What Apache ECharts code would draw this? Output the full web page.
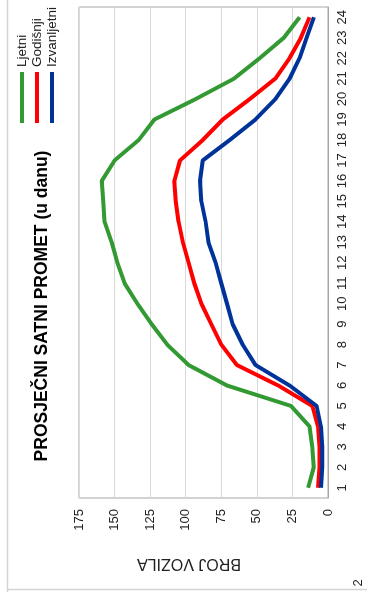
<!DOCTYPE html>
<html>
<head>
<meta charset="utf-8">
<script src="https://cdn.jsdelivr.net/npm/echarts@6/dist/echarts.min.js"></script>
<style>
html,body{margin:0;padding:0;background:#fff;overflow:hidden;}
#wrap{position:absolute;left:0;top:0;width:367px;height:592px;overflow:hidden;}
#main{position:absolute;left:0;top:0;width:592px;height:367px;transform-origin:0 0;transform:translateY(592px) rotate(-90deg);}
</style>
</head>
<body>
<div id="wrap"><div id="main"></div></div>
<script>
var hours = ['1','2','3','4','5','6','7','8','9','10','11','12','13','14','15','16','17','18','19','20','21','22','23','24'];
var ljetni = [14, 10, 11, 13, 26, 71, 98, 113, 124, 134, 143, 148, 152, 157, 158, 159, 150, 133, 122, 93, 66, 48, 31, 20];
var godisnji = [7, 6, 6, 7, 11, 35, 64, 75, 82, 89, 94, 98, 102, 105, 107, 108, 104, 88, 74, 55, 37, 27, 19, 13];
var izvanljetni = [5, 4, 4, 5, 8, 27, 51, 60, 67, 71, 75, 79, 84, 86, 89, 90, 88, 69, 51, 37, 27, 20, 15, 10];
var seriesNames = ['Ljetni', 'Godišnji', 'Izvanljetni'];
var chartTitle = 'PROSJEČNI SATNI PROMET (u danu)';
var axisTitle = 'BROJ VOZILA';
var pageNumber = '2';

var colors = ['#339933', '#ff0000', '#003399'];
var font = 'Liberation Sans, Arial, sans-serif';
var chart = echarts.init(document.getElementById('main'), null, {renderer: 'canvas'});
function mk(name, data, c) {
  return {name: name, type: 'line', data: data, showSymbol: false, symbol: 'none',
    lineStyle: {color: c, width: 4}, itemStyle: {color: c}, smooth: false, animation: false};
}
chart.setOption({
  animation: false,
  grid: {left: 94, right: 7, top: 79, bottom: 39, show: true, borderColor: '#a6a6a6', borderWidth: 1, backgroundColor: 'transparent'},
  legend: {
    orient: 'vertical', left: 464, top: 10, itemWidth: 51, itemHeight: 4, itemGap: 1, icon: 'rect',
    textStyle: {fontFamily: font, fontSize: 13.5, color: '#222', padding: [0,0,0,0]},
    data: seriesNames
  },
  xAxis: {
    type: 'category', data: hours, boundaryGap: true,
    axisLine: {show: true, lineStyle: {color: '#a6a6a6'}}, axisTick: {show: false},
    axisLabel: {fontFamily: font, fontSize: 13, color: '#222', margin: 8}
  },
  yAxis: {
    type: 'value', min: 0, max: 175, interval: 25,
    axisLine: {show: false}, axisTick: {show: false},
    splitLine: {lineStyle: {color: '#d9d9d9', width: 1}},
    axisLabel: {fontFamily: font, fontSize: 13, color: '#222', margin: 11}
  },
  graphic: [
    {type: 'text', x: 286, y: 42, style: {text: chartTitle, x: 0, y: 0, align: 'center', verticalAlign: 'middle', font: 'bold 17.5px ' + font, fill: '#000'}, silent: true},
    {type: 'text', x: 29, y: 189, rotation: Math.PI / 2, style: {text: axisTitle, x: 0, y: 0, align: 'center', verticalAlign: 'middle', font: '16px ' + font, fill: '#222'}, silent: true},
    {type: 'line', shape: {x1: 0, y1: 7.5, x2: 592, y2: 7.5}, style: {stroke: '#d4d4d4', lineWidth: 1.5}, silent: true},
    {type: 'line', shape: {x1: 2.5, y1: 7, x2: 2.5, y2: 367}, style: {stroke: '#d4d4d4', lineWidth: 1.5}, silent: true},
    {type: 'text', x: 9, y: 358, style: {text: pageNumber, x: 0, y: 0, align: 'center', verticalAlign: 'middle', font: '13px ' + font, fill: '#222'}, silent: true}
  ],
  series: [mk(seriesNames[0], ljetni, colors[0]), mk(seriesNames[1], godisnji, colors[1]), mk(seriesNames[2], izvanljetni, colors[2])]
});
</script>
</body>
</html>
